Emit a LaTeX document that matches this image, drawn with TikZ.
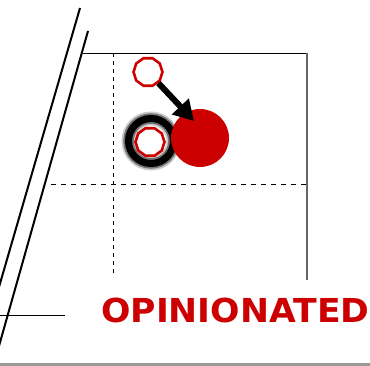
\documentclass[tikz,border=0pt]{standalone}
\usepackage{fontspec}
\setmainfont{DejaVu Sans}
\usetikzlibrary{shapes.geometric,arrows.meta}
\definecolor{myred}{HTML}{CC0000}
\definecolor{bargray}{HTML}{999999}
\begin{document}
\begin{tikzpicture}[x=1pt,y=-1pt,
  hollow/.style={regular polygon,regular polygon sides=10,draw=myred,line width=2.6pt,minimum size=29pt,inner sep=0pt,fill=white},
  thinline/.style={line width=0.9pt,black},
  dashline/.style={line width=0.8pt,black,dash pattern=on 4pt off 4pt},
  slant/.style={line width=2pt,black},
  ringstyle/.style={circle,minimum size=45pt,inner sep=0pt}]
\useasboundingbox (0,0) rectangle (370,366);
% frame lines
\coordinate (tl) at (83,53);
\coordinate (tr) at (307,53);
\coordinate (br) at (307,280);
\draw[thinline] (tl) -- (tr);
\draw[line width=1.4pt,black!60] (tr) -- (br);
\coordinate (v1) at (113,53);
\coordinate (v2) at (113,277);
\draw[dashline] (v1) -- (v2);
\coordinate (h1) at (51,184);
\coordinate (h2) at (307,184);
\draw[dashline,dash pattern=on 5pt off 5pt] (h1) -- (h2);
% slanted lines
\coordinate (s1a) at (80,8);
\coordinate (s1b) at (-1,287);
\coordinate (s2a) at (88,31);
\coordinate (s2b) at (-1,346);
\draw[slant] (s1a) -- (s1b);
\draw[slant] (s2a) -- (s2b);
% short horizontal
\coordinate (ha) at (0,315);
\coordinate (hb) at (65,315);
\draw[thinline] (ha) -- (hb);
% bottom bar
\fill[bargray] (0,363) rectangle (370,366);
% ring (soft edges)
\node[ringstyle,draw=black!20,line width=14pt] (ringblur) at (151,141) {};
\node[ringstyle,draw=black!55,line width=10.5pt] (ringmid) at (151,141) {};
\node[ringstyle,draw=black,line width=7pt] (ring) at (151,141) {};
% disk
\node[circle,fill=myred,minimum size=58pt,inner sep=0pt] (disk) at (200,138) {};
% hollow circles
\node[hollow] (c1) at (148,72) {};
\node[hollow] (c2) at (150,142) {};
% arrow
\coordinate (tip) at (194,121);
\draw[line width=6pt,-{Triangle[length=20pt,width=22pt]}] (c1) -- (tip);
% title
\node[anchor=base west,inner sep=0pt,text=myred,font=\bfseries\fontsize{33}{36}\selectfont] (title) at (101,323) {\scalebox{1.05}[1]{OPINIONATED}};
\end{tikzpicture}
\end{document}
